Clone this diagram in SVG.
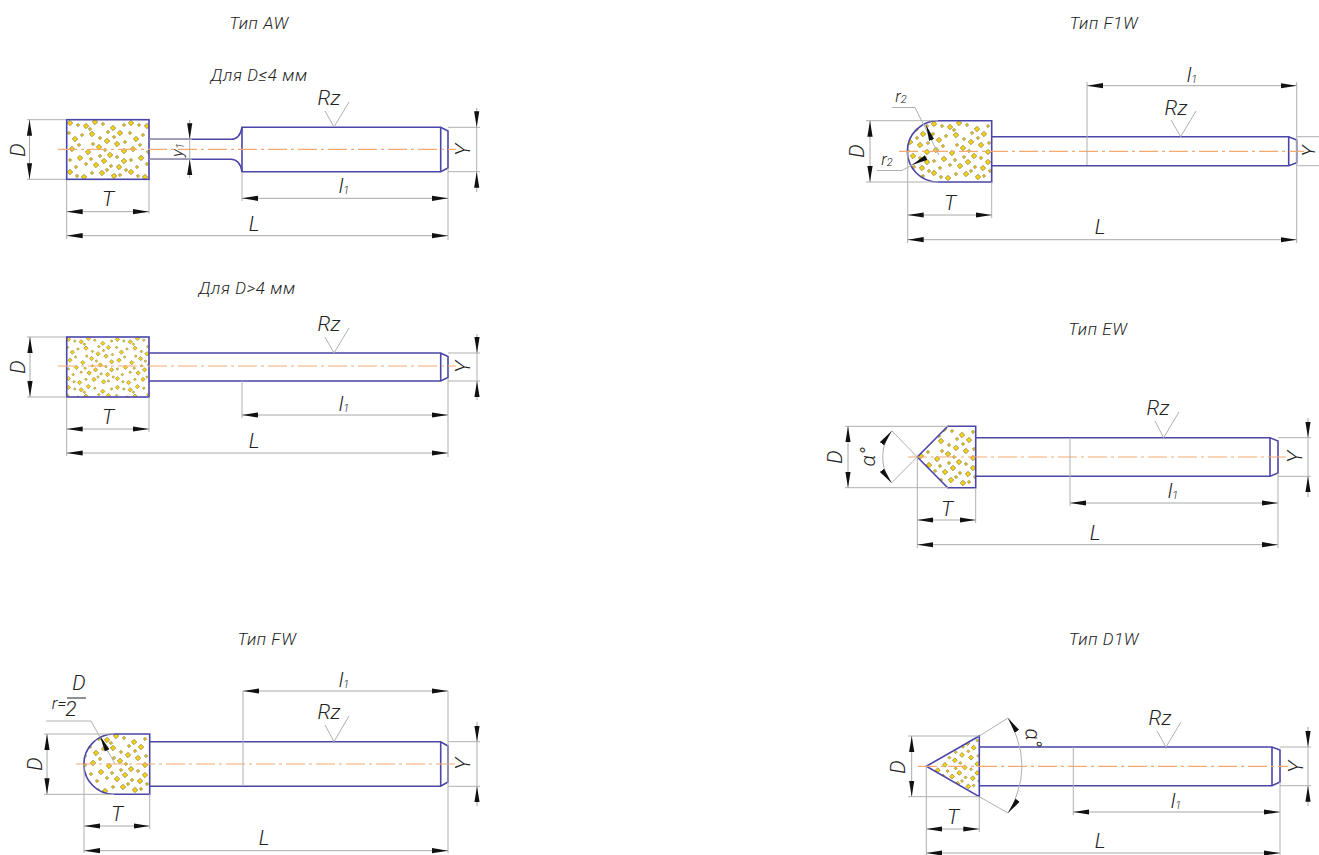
<svg xmlns="http://www.w3.org/2000/svg" width="1319" height="855" viewBox="0 0 1319 855">
<style>
text{font-family:"Roboto","Liberation Sans",sans-serif;font-style:italic;font-weight:300;fill:#222;font-size:21px;text-anchor:middle}
.h{font-size:17px;letter-spacing:.6px}
.s{font-size:11px}
.t{font-size:17px}
.o{fill:none;stroke:#4a45a8;stroke-width:1.6}
.d{fill:none;stroke:#b0b0b0;stroke-width:1}
.m{fill:none;stroke:#a8a8a8;stroke-width:1;marker-start:url(#ar);marker-end:url(#ar)}
.e{fill:none;stroke:#a8a8a8;stroke-width:1;marker-end:url(#ar)}
.c{fill:none;stroke:#f6aa70;stroke-width:1.2;stroke-dasharray:19 4 3 4}
</style>
<defs>
<marker id="ar" markerUnits="userSpaceOnUse" markerWidth="18" markerHeight="8" refX="16" refY="3" orient="auto-start-reverse"><path d="M0,.4L16,3L0,5.6Z" fill="#111"/></marker>
<path id="b" d="M0-2.7L2.7 0L0 2.7L-2.7 0Z" fill="#f9d30c" stroke="#7d7640" stroke-width=".7"/>
<path id="k" d="M0-1.7L1.7 0L0 1.7L-1.7 0Z" fill="#e8c418" stroke="#7d7640" stroke-width=".6"/>
<g id="dots">
<use href="#b" x="3" y="3"/><use href="#b" x="19" y="6"/><use href="#b" x="28" y="2"/><use href="#b" x="46" y="8"/><use href="#b" x="53" y="13"/><use href="#b" x="8" y="19"/><use href="#b" x="25" y="14"/><use href="#b" x="40" y="21"/><use href="#b" x="50" y="24"/><use href="#b" x="5" y="29"/><use href="#b" x="21" y="32"/><use href="#b" x="32" y="27"/><use href="#b" x="43" y="35"/><use href="#b" x="57" y="31"/><use href="#b" x="13" y="38"/><use href="#b" x="29" y="45"/><use href="#b" x="37" y="41"/><use href="#b" x="52" y="47"/><use href="#b" x="3" y="52"/><use href="#b" x="17" y="57"/><use href="#b" x="35" y="53"/><use href="#b" x="47" y="56"/><use href="#b" x="57" y="41"/>
<use href="#k" x="11" y="5"/><use href="#k" x="23" y="9"/><use href="#k" x="36" y="4"/><use href="#k" x="41" y="12"/><use href="#k" x="2" y="13"/><use href="#k" x="15" y="15"/><use href="#k" x="33" y="18"/><use href="#k" x="47" y="17"/><use href="#k" x="58" y="22"/><use href="#k" x="12" y="25"/><use href="#k" x="26" y="24"/><use href="#k" x="38" y="30"/><use href="#k" x="50" y="37"/><use href="#k" x="3" y="40"/><use href="#k" x="19" y="44"/><use href="#k" x="33" y="36"/><use href="#k" x="44" y="46"/><use href="#k" x="9" y="47"/><use href="#k" x="25" y="53"/><use href="#k" x="40" y="50"/><use href="#k" x="53" y="55"/><use href="#k" x="59" y="50"/><use href="#k" x="57" y="5"/><use href="#k" x="24" y="39"/><use href="#k" x="10" y="56"/>
</g>
<clipPath id="c1"><rect x="66.7" y="119.7" width="82.3" height="59.6"/></clipPath>
<clipPath id="c2"><rect x="66.7" y="337" width="82.3" height="60"/></clipPath>
<clipPath id="c3"><path d="M149.7 734V794.3H114A30.15 30.15 0 0 1 114 734Z"/></clipPath>
<clipPath id="c4"><path d="M991.7 120.7V182H938A30.65 30.65 0 0 1 938 120.7Z"/></clipPath>
<clipPath id="c5"><path d="M975.7 426.3V487.7H947.7L917.3 457L947.7 426.3Z"/></clipPath>
<clipPath id="c6"><path d="M979.3 736V796.7L926.3 766.3Z"/></clipPath>
</defs>

<g id="tool-aw-small">
<text class="h" x="259" y="29">Тип AW</text>
<text class="h" x="259" y="81">Для D≤4 мм</text>
<g clip-path="url(#c1)"><use href="#dots" transform="translate(67 120)"/><use href="#dots" transform="translate(128 120)"/></g>
<rect x="66.7" y="119.7" width="82.3" height="59.6" class="o"/>
<path class="o" d="M149 139.3H231Q240 139 242 127.3H440.7L448 131V168L440.7 171.7H242Q240 159.6 231 159.3H149"/>
<path class="o" d="M242 127.3V171.7M440.7 127.3V171.7"/>
<text x="18" y="150" transform="rotate(-90 18 150)" dy="7">D</text>
<text x="108" y="206">T</text><text x="254" y="231">L</text>
<text x="344" y="193">l<tspan class="s" dy="1">1</tspan></text>
<text x="329" y="105">Rz</text>
<text x="463" y="150" transform="rotate(-90 463 150)" dy="7">Y</text>
<text x="178" y="150" transform="rotate(-90 178 150)" dy="5" class="t">y<tspan class="s" dy="1">1</tspan></text>
</g>

<g id="tool-aw-large">
<text class="h" x="247" y="294">Для D&gt;4 мм</text>
<g clip-path="url(#c2)"><use href="#dots" transform="translate(66 337) scale(.8)"/><use href="#dots" transform="translate(115 337) scale(.8)"/><use href="#dots" transform="translate(66 385) scale(.8)"/><use href="#dots" transform="translate(115 385) scale(.8)"/></g>
<rect x="66.7" y="337" width="82.3" height="60" class="o"/>
<path class="o" d="M149 353H440.7L448 356.5V377.5L440.7 381H149M440.7 353V381"/>
<text x="18" y="367" transform="rotate(-90 18 367)" dy="7">D</text>
<text x="108" y="424">T</text><text x="254" y="448">L</text>
<text x="344" y="411">l<tspan class="s" dy="1">1</tspan></text>
<text x="329" y="331">Rz</text>
<text x="463" y="367" transform="rotate(-90 463 367)" dy="7">Y</text>
</g>

<g id="tool-fw">
<text class="h" x="267" y="645">Тип FW</text>
<g clip-path="url(#c3)"><use href="#dots" transform="translate(88 734)"/><use href="#dots" transform="translate(27 734)"/></g>
<path class="o" d="M149.7 734V794.3H114A30.15 30.15 0 0 1 114 734Z"/>
<path class="o" d="M149.7 741.7H440.7L448 746V782L440.7 786.3H149.7M440.7 741.7V786.3"/>
<text x="35" y="764" transform="rotate(-90 35 764)" dy="7">D</text>
<text x="117" y="821">T</text><text x="264" y="845">L</text>
<text x="344" y="687">l<tspan class="s" dy="1">1</tspan></text>
<text x="329" y="719">Rz</text>
<text x="463" y="764" transform="rotate(-90 463 764)" dy="7">Y</text>
<text x="59" y="709" class="t">r=</text><text x="79" y="690">D</text><text x="71" y="716">2</text>
<path d="M67 698H86" stroke="#222" stroke-width="1" fill="none"/>
</g>

<g id="tool-f1w">
<text class="h" x="1104" y="29">Тип F1W</text>
<g clip-path="url(#c4)"><use href="#dots" transform="translate(931 121)"/><use href="#dots" transform="translate(870 121)"/></g>
<path class="o" d="M991.7 120.7V182H938A30.65 30.65 0 0 1 938 120.7Z"/>
<path class="o" d="M991.7 136.7H1288.7L1296.7 140V162.7L1288.7 165.7H991.7M1288.7 136.7V165.7"/>
<text x="857" y="151" transform="rotate(-90 857 151)" dy="7">D</text>
<text x="950" y="210">T</text><text x="1100" y="234">L</text>
<text x="1192" y="82">l<tspan class="s" dy="1">1</tspan></text>
<text x="1176" y="115">Rz</text>
<text x="1308" y="151" transform="rotate(-90 1308 151)" dy="7" style="font-size:19px">Y</text>
<text x="901" y="102" class="t">r<tspan class="s" dy="1">2</tspan></text>
<text x="887" y="165" class="t">r<tspan class="s" dy="1">2</tspan></text>
</g>

<g id="tool-ew">
<text class="h" x="1098" y="335">Тип EW</text>
<g clip-path="url(#c5)"><use href="#dots" transform="translate(916 427)"/></g>
<path class="o" d="M975.7 426.3V487.7H947.7L917.3 457L947.7 426.3Z"/>
<path class="o" d="M975.7 437.7H1270L1278 441V473L1270 476.3H975.7M1270 437.7V476.3"/>
<text x="835" y="457" transform="rotate(-90 835 457)" dy="7">D</text>
<text x="947" y="516">T</text><text x="1095" y="540">L</text>
<text x="1173" y="498">l<tspan class="s" dy="1">1</tspan></text>
<text x="1158" y="415">Rz</text>
<text x="1295" y="457" transform="rotate(-90 1295 457)" dy="7">Y</text>
<text x="868" y="457" transform="rotate(-90 868 457)" dy="7">α°</text>
</g>

<g id="tool-d1w">
<text class="h" x="1104" y="645">Тип D1W</text>
<g clip-path="url(#c6)"><use href="#dots" transform="translate(926 736) scale(.9)"/></g>
<path class="o" d="M979.3 736V796.7L926.3 766.3Z"/>
<path class="o" d="M979.3 747H1272L1280 750V782L1272 785.7H979.3M1272 747V785.7"/>
<text x="898" y="767" transform="rotate(-90 898 767)" dy="7">D</text>
<text x="953" y="824">T</text><text x="1100" y="848">L</text>
<text x="1176" y="808">l<tspan class="s" dy="1">1</tspan></text>
<text x="1160" y="725">Rz</text>
<text x="1296" y="767" transform="rotate(-90 1296 767)" dy="7">Y</text>
<text x="1031" y="738" transform="rotate(85 1031 738)" dy="5">α°</text>
</g>

<g id="connectors">
<path class="c" d="M58 149.3H456M58 366H456M76 764H456M899 151.3H1304M908 457H1286M918 766.3H1288"/>
<!-- AW small -->
<path class="d" d="M27 119.7H66M27 179.3H66M66.7 180V239M149 180V214M242 172V201M448 168V240M448 127.3H480M448 171.7H480M325 111L334 127L349 102M149 139.3H192M149 159.3H192"/>
<path class="m" d="M29.5 119.7V179.3"/><path class="m" d="M66.7 211.7H149"/><path class="m" d="M242 198.3H448"/><path class="m" d="M66.7 235.7H448"/>
<path class="e" d="M476.7 108V127.3"/><path class="e" d="M476.7 192V171.7"/><path class="e" d="M189.7 120V139.3"/><path class="e" d="M189.7 178V159.3"/>
<path class="d" d="M476.7 127.3V171.7M189.7 139.3V159.3"/>
<!-- AW large -->
<path class="d" d="M27 337H66M27 397H66M66.7 397V456M149 397V432M242 381V418M448 378V457M448 353H480M448 381H480M325 337L334 353L349 328"/>
<path class="m" d="M30 337V397"/><path class="m" d="M66.7 429H149"/><path class="m" d="M242 415H448"/><path class="m" d="M66.7 453H448"/>
<path class="e" d="M477 334V353"/><path class="e" d="M477 400V381"/>
<path class="d" d="M477 353V381"/>
<!-- FW -->
<path class="d" d="M44 734H114M44 794.3H114M84 764V853M149.7 794V829M243 691V786M448 691V853M448 741.7H480M448 786.3H480M325 725L334 741.7L349 716M46 721H91L115 764"/>
<path class="m" d="M47 734V794.3"/><path class="m" d="M84 826H149.7"/><path class="m" d="M243 691H448"/><path class="m" d="M84 850.7H448"/>
<path class="e" d="M477 722V741.7"/><path class="e" d="M477 806V786.3"/><path class="e" d="M108 752L100 736"/>
<path class="d" d="M477 741.7V786.3"/>
<!-- F1W -->
<path class="d" d="M866 120.7H938M866 182H938M907.7 151V243M991.7 182V218M1087 82V165M1296.7 82V243M1297 136.7H1319M1297 165.7H1319M1171 120L1180.7 136.7L1196 111M892 107.5H915L939 155M877 170.5H902L925 158"/>
<path class="m" d="M870 120.7V182"/><path class="m" d="M907.7 215H991.7"/><path class="m" d="M1087 85.7H1296.7"/><path class="m" d="M907.7 239.7H1296.7"/>
<path class="e" d="M932 141L926 125"/><path class="e" d="M927 157L912 165"/>
<!-- EW -->
<path class="d" d="M845 426.3H948M845 487.7H948M917.3 457V548M975.7 488V523M1070 437.7V506M1278 473V548M1278 437.7H1311M1278 476.3H1311M1155 421L1163.6 437.7L1179 412M917.3 457L891.7 430.7M917.3 457L891.7 482.7"/>
<path class="m" d="M848 426.3V487.7"/><path class="m" d="M917.3 520H975.7"/><path class="m" d="M1070 503H1278"/><path class="m" d="M917.3 544.7H1278"/>
<path class="e" d="M883 452Q884 441 891.7 431"/><path class="e" d="M883 462Q884 473 891.7 483"/><path class="e" d="M1308 418V437.7"/><path class="e" d="M1308 497V476.3"/>
<path class="d" d="M883 452Q882.5 457 883 462M1308 437.7V476.3"/>
<!-- D1W -->
<path class="d" d="M908 736H979M908 796.7H979M926.3 766V855M979.3 797V832M1073.3 747V815M1280 782V855M1280 747H1311M1280 785.7H1311M1157 731L1166 747L1181 722M979.3 736L1008 718M979.3 796.7L1008 813"/>
<path class="m" d="M911.7 736V796.7"/><path class="m" d="M926.3 829H979.3"/><path class="m" d="M1073.3 812H1280"/><path class="m" d="M926.3 853H1280"/>
<path class="e" d="M1017 738Q1014 727 1008 718"/><path class="e" d="M1017 794Q1014 805 1008 813"/><path class="e" d="M1308 727V747"/><path class="e" d="M1308 806V785.7"/>
<path class="d" d="M1017 738Q1027 766 1017 794M1308 747V785.7"/>
</g>
</svg>
